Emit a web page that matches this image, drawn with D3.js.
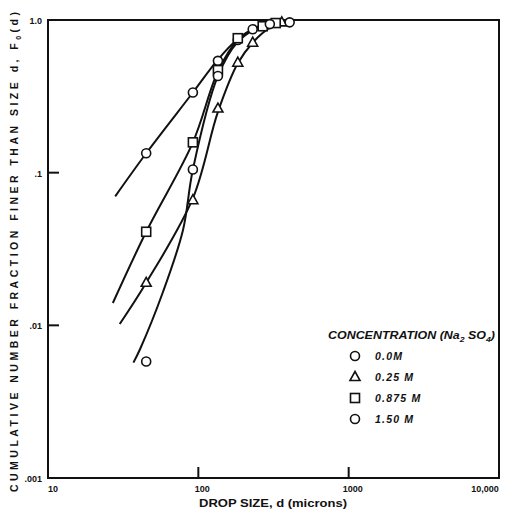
<!DOCTYPE html>
<html>
<head>
<meta charset="utf-8">
<script src="https://cdn.jsdelivr.net/npm/d3@7"></script>
<style>
  body { margin: 0; background: #fff; }
  text { font-family: "Liberation Sans", Arial, sans-serif; fill: #111; }
</style>
</head>
<body>
<div class="container"></div>
<script>
const w = 507;
const h = 513;

// measured points, [drop size (microns), cumulative fraction]
const pts00 = [[45, 0.134], [92, 0.335], [135, 0.54], [183, 0.74], [230, 0.87]];
const pts025 = [[45, 0.019], [92, 0.066], [135, 0.263], [183, 0.525], [230, 0.71], [359, 0.965]];
const pts0875 = [[45, 0.041], [92, 0.158], [135, 0.47], [183, 0.76], [268, 0.91], [327, 0.955]];
const pts150 = [[45, 0.0058], [92, 0.105], [135, 0.43], [299, 0.94], [405, 0.965]];

// hand-drawn fit curves
const fit00 = [[28, 0.07], [45, 0.134], [92, 0.335], [135, 0.55], [183, 0.75], [230, 0.87], [290, 0.95], [380, 0.985]];
const fit025 = [[30, 0.0102], [45, 0.019], [92, 0.068], [135, 0.25], [183, 0.52], [230, 0.71], [300, 0.89], [390, 0.975]];
const fit0875 = [[27, 0.014], [45, 0.041], [92, 0.158], [135, 0.46], [183, 0.74], [260, 0.92], [340, 0.975]];
const fit150 = [[37, 0.0057], [41, 0.007], [58, 0.0164], [79, 0.042], [92, 0.105], [135, 0.43], [183, 0.72], [260, 0.91], [340, 0.975]];

const series = [
  { label: "0.0M", shape: "circle", pts: pts00, fit: fit00 },
  { label: "0.25 M", shape: "triangle", pts: pts025, fit: fit025 },
  { label: "0.875 M", shape: "square", pts: pts0875, fit: fit0875 },
  { label: "1.50 M", shape: "circle", pts: pts150, fit: fit150 }
];

const xTicks = [10, 100, 1000, 10000];
const xTickLabels = ["10", "100", "1000", "10,000"];
const yTicks = [0.001, 0.01, 0.1, 1];
const yTickLabels = [".001", ".01", ".1", "1.0"];

const margin = { top: 20, right: 8, bottom: 35, left: 48 };
const width = w - margin.left - margin.right;
const height = h - margin.top - margin.bottom;

const svg = d3.select('.container').append('svg')
    .attr('width', w)
    .attr('height', h);

const chart = svg.append('g')
    .attr('transform', `translate(${margin.left}, ${margin.top})`);

const x = d3.scaleLog().domain([10, 10000]).range([0, width]);
const y = d3.scaleLog().domain([0.001, 1]).range([height, 0]);

// frame
chart.append('rect')
    .attr('width', width)
    .attr('height', height)
    .attr('fill', 'none')
    .attr('stroke', '#111')
    .attr('stroke-width', 2);

// inner ticks
chart.selectAll('.xtick')
    .data(xTicks.slice(1, 3))
    .enter()
    .append('line')
      .attr('x1', d => x(d)).attr('x2', d => x(d))
      .attr('y1', height).attr('y2', height - 11)
      .attr('stroke', '#111').attr('stroke-width', 2);

chart.selectAll('.ytick')
    .data(yTicks.slice(1, 3))
    .enter()
    .append('line')
      .attr('x1', 0).attr('x2', 11)
      .attr('y1', d => y(d)).attr('y2', d => y(d))
      .attr('stroke', '#111').attr('stroke-width', 2);

// tick labels
chart.selectAll('.xlab')
    .data(xTicks)
    .enter()
    .append('text')
      .attr('x', (d, i) => x(d) + (i === 0 ? 5 : i === 3 ? -14 : 4))
      .attr('y', height + 14)
      .attr('text-anchor', 'middle')
      .style('font-size', '9px')
      .style('font-weight', 'bold')
      .text((d, i) => xTickLabels[i]);

chart.selectAll('.ylab')
    .data(yTicks)
    .enter()
    .append('text')
      .attr('x', -6)
      .attr('y', d => y(d) + 4)
      .attr('text-anchor', 'end')
      .style('font-size', '9px')
      .style('font-weight', 'bold')
      .text((d, i) => yTickLabels[i]);

// axis titles
svg.append('text')
    .attr('x', 199)
    .attr('y', 507)
    .attr('textLength', 148)
    .attr('lengthAdjust', 'spacingAndGlyphs')
    .style('font-size', '10px')
    .style('font-weight', 'bold')
    .text('DROP SIZE, d (microns)');

const ylab = svg.append('text')
    .attr('transform', 'translate(18, 492) rotate(-90)')
    .attr('textLength', 480)
    .attr('lengthAdjust', 'spacing')
    .style('font-size', '10.5px')
    .style('font-weight', 'bold');
ylab.append('tspan').text('CUMULATIVE NUMBER FRACTION FINER THAN SIZE d, F');
ylab.append('tspan').attr('dy', 3).style('font-size', '7px').text('0');
ylab.append('tspan').attr('dy', -3).text('(d)');

// fit curves
const line = d3.line()
    .x(d => x(d[0]))
    .y(d => y(d[1]))
    .curve(d3.curveCatmullRom.alpha(0.5));

chart.selectAll('.fit')
    .data(series)
    .enter()
    .append('path')
      .attr('d', d => line(d.fit))
      .attr('fill', 'none')
      .attr('stroke', '#111')
      .attr('stroke-width', 2);

// markers
function drawMarker(g, shape, cx, cy) {
  if (shape === 'circle') {
    g.append('circle').attr('cx', cx).attr('cy', cy).attr('r', 4.5);
  } else if (shape === 'square') {
    g.append('rect').attr('x', cx - 4.5).attr('y', cy - 4.5).attr('width', 9).attr('height', 9);
  } else {
    g.append('path').attr('d', `M${cx},${cy - 5.5}L${cx + 5},${cy + 3.5}L${cx - 5},${cy + 3.5}Z`);
  }
}

const marks = chart.append('g')
    .attr('fill', '#fff')
    .attr('stroke', '#111')
    .attr('stroke-width', 1.6);

series.forEach(s => {
  s.pts.forEach(p => drawMarker(marks, s.shape, x(p[0]), y(p[1])));
});

// legend
const legend = svg.append('g');

legend.append('text')
    .attr('x', 328)
    .attr('y', 339)
    .attr('textLength', 167)
    .attr('lengthAdjust', 'spacingAndGlyphs')
    .style('font-size', '10px')
    .style('font-weight', 'bold')
    .style('font-style', 'italic')
    .html('CONCENTRATION (Na<tspan dy="3" font-size="7">2</tspan><tspan dy="-3"> SO</tspan><tspan dy="3" font-size="7">4</tspan><tspan dy="-3">)</tspan>');

const lg = legend.append('g')
    .attr('fill', '#fff')
    .attr('stroke', '#111')
    .attr('stroke-width', 1.6);

series.forEach((s, i) => {
  const ly = 356 + i * 21;
  drawMarker(lg, s.shape, 355, ly);
  legend.append('text')
      .attr('x', 375)
      .attr('y', ly + 4)
      .style('font-size', '10.5px')
      .style('font-weight', 'bold')
      .style('font-style', 'italic')
      .style('letter-spacing', '1.2px')
      .text(s.label);
});
</script>
</body>
</html>
